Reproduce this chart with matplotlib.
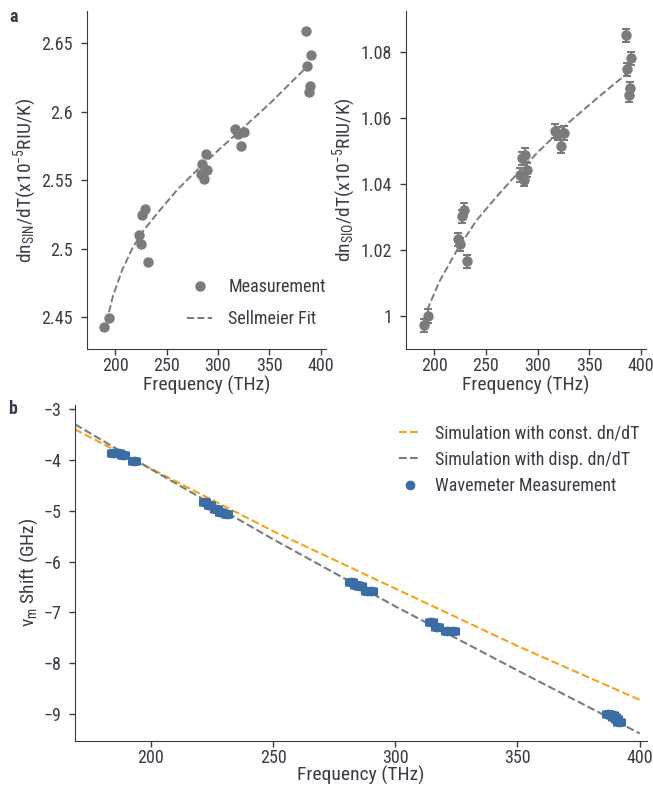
# grafica de dn/dT y del corrimiento de la frecuencia de modulacion
import matplotlib
matplotlib.use('Agg')
import matplotlib.pyplot as plt
from matplotlib import font_manager
from matplotlib.lines import Line2D

# datos (frecuencias en THz)
freq_med = [189.5, 193.8,
            223.3, 225.0, 226.6, 228.9, 231.8,
            283.3, 284.9, 286.5, 288.2, 289.8,
            316.7, 319.9, 322.8, 325.4,
            386.0, 387.0, 388.6, 389.9, 390.6]
dn_sin = [2.4425, 2.4495,
          2.5096, 2.5033, 2.5242, 2.5291, 2.4901,
          2.5544, 2.5617, 2.5505, 2.5688, 2.5571,
          2.5870, 2.5839, 2.5748, 2.5851,
          2.6588, 2.6332, 2.6142, 2.6186, 2.6410]
dn_sio = [0.9972, 1.0000,
          1.0232, 1.0217, 1.0302, 1.0322, 1.0165,
          1.0427, 1.0477, 1.0412, 1.0487, 1.0442,
          1.0560, 1.0552, 1.0514, 1.0554,
          1.0850, 1.0747, 1.0668, 1.0689, 1.0780]
err_sio = 0.002

# curvas del ajuste de Sellmeier
freq_fit_sin = [194, 198, 207, 217, 227, 243, 260, 280, 300, 320, 350, 389]
fit_sin = [2.4535, 2.4655, 2.4845, 2.5005, 2.5125, 2.5275, 2.5425, 2.5575,
           2.5715, 2.5850, 2.6055, 2.6345]
freq_fit_sio = [193, 205, 222, 241, 260, 280, 300, 330, 358, 389]
fit_sio = [1.0018, 1.0105, 1.0200, 1.0290, 1.0360, 1.0430, 1.0495, 1.0585,
           1.0660, 1.0740]

# panel b: medidas del wavemeter
freq_wave = [184.5, 186.5, 188.5, 193.0,
             222.0, 224.0, 226.7, 228.5, 231.0,
             282.0, 284.0, 285.5, 288.5, 290.0,
             314.5, 317.2, 321.0, 323.5,
             387.0, 388.5, 389.5, 390.5, 391.5]
shift_wave = [-3.86, -3.87, -3.90, -4.03,
              -4.82, -4.88, -4.97, -5.02, -5.06,
              -6.41, -6.46, -6.48, -6.57, -6.58,
              -7.19, -7.28, -7.36, -7.37,
              -8.99, -9.01, -9.05, -9.10, -9.16]
freq_sim = [169, 200, 250, 300, 350, 400]
sim_const = [-3.40, -4.17, -5.40, -6.53, -7.66, -8.72]
sim_disp = [-3.30, -4.18, -5.56, -6.88, -8.14, -9.38]

# buscamos una fuente estrecha (condensada) parecida a la original
fuente = 'Roboto'
estiramiento = 'normal'
preferidas = ['Roboto Condensed', 'Liberation Sans Narrow', 'Noto Sans',
              'Open Sans', 'DejaVu Sans', 'Roboto', 'Lato', 'Inter']
candidatas = [f for f in font_manager.fontManager.ttflist
              if (f.stretch in ('condensed', 'semi-condensed')
                  or 'Condensed' in f.fname or 'Narrow' in f.fname)
              and f.style == 'normal' and f.weight in (400, 'normal', 'regular')]
for nombre in preferidas:
    hay = [f for f in candidatas if f.name == nombre]
    if hay:
        fuente = nombre
        estiramiento = hay[0].stretch
        break

plt.rcParams['font.family'] = [fuente, 'DejaVu Sans']
plt.rcParams['font.stretch'] = estiramiento
plt.rcParams['mathtext.fontset'] = 'custom'
plt.rcParams['mathtext.rm'] = fuente
plt.rcParams['mathtext.it'] = fuente

texto = '#3b3b46'
gris = '#7b7b7b'
naranja = '#f5a31a'
azul = '#3a6da3'
plt.rcParams['text.color'] = texto
plt.rcParams['axes.labelcolor'] = texto
plt.rcParams['xtick.color'] = texto
plt.rcParams['ytick.color'] = texto
plt.rcParams['axes.edgecolor'] = texto


def formato(v, pos):
    # numeros sin ceros de sobra y con el signo menos tipografico
    return ('%g' % v).replace('-', '\u2212')


def preparar(ax):
    ax.spines['top'].set_visible(False)
    ax.spines['right'].set_visible(False)
    ax.tick_params(labelsize=13, length=4, width=1)
    ax.tick_params(axis='y', pad=6)
    ax.tick_params(axis='x', pad=2)
    ax.yaxis.set_major_formatter(plt.FuncFormatter(formato))


fig = plt.figure(figsize=(6.53, 7.87), dpi=100)

# panel a izquierdo
ax1 = fig.add_axes([0.133, 0.5565, 0.366, 0.4295])
ax1.plot(freq_med, dn_sin, 'o', color=gris, markersize=6.5, label='Measurement')
ax1.plot(freq_fit_sin, fit_sin, '--', color=gris, lw=1.4, label='Sellmeier Fit')
ax1.set_xlim(172.5, 405)
ax1.set_ylim(2.4266, 2.6734)
ax1.set_xticks([200, 250, 300, 350, 400])
ax1.set_yticks([2.45, 2.5, 2.55, 2.6, 2.65])
ax1.set_xlabel('Frequency (THz)', fontsize=14, labelpad=0)
ax1.set_ylabel('dn$_\\mathrm{SIN}$/dT(x10$^{-5}$RIU/K)', fontsize=14, labelpad=2)
preparar(ax1)
ax1.legend(loc='lower right', bbox_to_anchor=(1.03, 0.04), frameon=False,
           fontsize=13, handlelength=1.4, handletextpad=0.9,
           labelspacing=0.8, borderaxespad=0)

# panel a derecho
ax2 = fig.add_axes([0.6217, 0.5565, 0.3675, 0.4295])
ax2.errorbar(freq_med, dn_sio, yerr=err_sio, fmt='o', color=gris, markersize=6.5,
             capsize=3, elinewidth=1.5, capthick=1.5)
ax2.plot(freq_fit_sio, fit_sio, '--', color=gris, lw=1.4)
ax2.set_xlim(172.5, 405)
ax2.set_ylim(0.990, 1.0923)
ax2.set_xticks([200, 250, 300, 350, 400])
ax2.set_yticks([1.0, 1.02, 1.04, 1.06, 1.08])
ax2.set_xlabel('Frequency (THz)', fontsize=14, labelpad=0)
ax2.set_ylabel('dn$_\\mathrm{SIO}$/dT(x10$^{-5}$RIU/K)', fontsize=14, labelpad=2)
preparar(ax2)

# panel b
ax3 = fig.add_axes([0.1149, 0.0590, 0.876, 0.4264])
l1, = ax3.plot(freq_sim, sim_const, '--', color=naranja, lw=1.5)
l2, = ax3.plot(freq_sim, sim_disp, '--', color=gris, lw=1.5)
ax3.errorbar(freq_wave, shift_wave, xerr=2.0, yerr=0.06, fmt='o', color=azul,
             markersize=6, capsize=3, elinewidth=2.5, capthick=2.2)
ax3.set_xlim(169, 403)
ax3.set_ylim(-9.52, -2.92)
ax3.set_xticks([200, 250, 300, 350, 400])
ax3.set_yticks([-3, -4, -5, -6, -7, -8, -9])
ax3.set_xlabel('Frequency (THz)', fontsize=14, labelpad=-1)
ax3.set_ylabel('ν$_\\mathrm{m}$ Shift (GHz)', fontsize=14, labelpad=2)
preparar(ax3)
punto = Line2D([], [], marker='o', ls='none', color=azul, markersize=6)
ax3.legend([l1, l2, punto],
           ['Simulation with const. dn/dT', 'Simulation with disp. dn/dT',
            'Wavemeter Measurement'],
           loc='upper right', bbox_to_anchor=(1.0, 0.963), frameon=False,
           fontsize=13, handlelength=1.2, handletextpad=0.8,
           labelspacing=0.45, borderaxespad=0)

# letras de los paneles
fig.text(0.014, 0.972, 'a', fontsize=13, fontweight='bold')
fig.text(0.012, 0.474, 'b', fontsize=13, fontweight='bold')

plt.savefig('out.png', dpi=100)
